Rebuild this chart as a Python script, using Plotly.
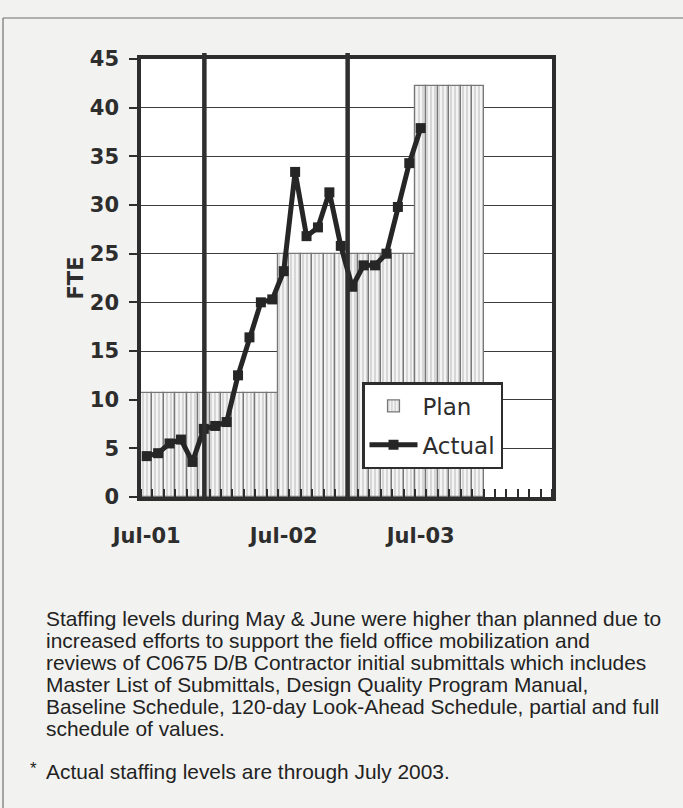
import plotly.graph_objects as go

# Month index 0 = Jul-01 ... 35 = Jun-04
month_labels = [
    "Jul-01", "Aug-01", "Sep-01", "Oct-01", "Nov-01", "Dec-01",
    "Jan-02", "Feb-02", "Mar-02", "Apr-02", "May-02", "Jun-02",
    "Jul-02", "Aug-02", "Sep-02", "Oct-02", "Nov-02", "Dec-02",
    "Jan-03", "Feb-03", "Mar-03", "Apr-03", "May-03", "Jun-03",
    "Jul-03", "Aug-03", "Sep-03", "Oct-03", "Nov-03", "Dec-03",
    "Jan-04", "Feb-04", "Mar-04", "Apr-04", "May-04", "Jun-04",
]
month_index = list(range(len(month_labels)))

# Planned FTE per month (stepped plan)
plan_fte = [
    10.7, 10.7, 10.7, 10.7, 10.7, 10.7, 10.7, 10.7, 10.7, 10.7, 10.7, 10.7,
    25.0, 25.0, 25.0, 25.0, 25.0, 25.0, 25.0, 25.0, 25.0, 25.0, 25.0, 25.0,
    42.2, 42.2, 42.2, 42.2, 42.2, 42.2,
    None, None, None, None, None, None,
]

# Actual FTE, Jul-01 through Jul-03
actual_fte = [
    4.2, 4.5, 5.5, 5.9, 3.6, 7.0, 7.3, 7.7, 12.5, 16.4, 20.0, 20.3,
    23.2, 33.4, 26.8, 27.7, 31.3, 25.8, 21.6, 23.8, 23.8, 25.0, 29.8, 34.3,
    37.9,
]

# Heavy vertical divider lines (month-index positions)
divider_positions = [5.05, 17.6]

x_tick_positions = [0, 12, 24]
y_ticks = [0, 5, 10, 15, 20, 25, 30, 35, 40, 45]

note_lines = [
    "Staffing levels during May & June were higher than planned due to",
    "increased efforts to support the field office mobilization and",
    "reviews of C0675 D/B Contractor initial submittals which includes",
    "Master List of Submittals, Design Quality Program Manual,",
    "Baseline Schedule, 120-day Look-Ahead Schedule, partial and full",
    "schedule of values.",
]
footnote = "Actual staffing levels are through July 2003."

INK = "#2d2d2d"
W, H = 683, 808
L, R, T, B = 141, 131, 59, 311
PW, PH = W - L - R, H - T - B


def px_to_paper_x(px):
    return (px - L) / PW


def px_to_paper_y(py):
    return (H - B - py) / PH


fig = go.Figure()

fig.add_trace(go.Bar(
    x=month_index,
    y=plan_fte,
    width=1.0,
    name="Plan",
    legendgroup="plan",
    marker=dict(
        color="#f3f3f3",
        line=dict(color="#777777", width=1.2),
        pattern=dict(shape="|", size=4, solidity=0.35,
                     fgcolor="#a0a0a0", bgcolor="#f4f4f4"),
    ),
))

fig.add_trace(go.Scatter(
    x=month_index[:len(actual_fte)],
    y=actual_fte,
    name="Actual",
    legendgroup="actual",
    mode="lines+markers",
    line=dict(color="#262626", width=5),
    marker=dict(symbol="square", size=10, color="#262626"),
))

for xv in divider_positions:
    fig.add_shape(type="line", xref="x", yref="paper",
                  x0=xv, x1=xv, y0=0, y1=px_to_paper_y(53),
                  line=dict(color="#2f2f2f", width=4.5), layer="above")

# outer frame of the figure panel
fig.add_shape(type="line", xref="paper", yref="paper",
              x0=px_to_paper_x(3), x1=px_to_paper_x(690),
              y0=px_to_paper_y(18), y1=px_to_paper_y(18),
              line=dict(color="#707070", width=1.2))
fig.add_shape(type="line", xref="paper", yref="paper",
              x0=px_to_paper_x(3), x1=px_to_paper_x(3),
              y0=px_to_paper_y(18), y1=px_to_paper_y(815),
              line=dict(color="#707070", width=1.2))

note_font = dict(family="Liberation Sans, Arial", size=20.9, color="#222222")
line_y = [618, 640, 662, 684, 706, 728]
for txt, py in zip(note_lines, line_y):
    fig.add_annotation(text=txt, xref="paper", yref="paper",
                       x=px_to_paper_x(44), y=px_to_paper_y(py),
                       xanchor="left", yanchor="middle", showarrow=False,
                       font=note_font)
fig.add_annotation(text="*", xref="paper", yref="paper",
                   x=px_to_paper_x(28), y=px_to_paper_y(768),
                   xanchor="left", yanchor="middle", showarrow=False,
                   font=dict(family="Liberation Sans, Arial", size=17, color="#222222"))
fig.add_annotation(text=footnote, xref="paper", yref="paper",
                   x=px_to_paper_x(44), y=px_to_paper_y(771),
                   xanchor="left", yanchor="middle", showarrow=False,
                   font=note_font)

fig.update_layout(
    width=W, height=H,
    margin=dict(l=L, r=R, t=T, b=B, pad=0),
    paper_bgcolor="#f2f2f0",
    plot_bgcolor="#ffffff",
    bargap=0,
    showlegend=True,
    legend=dict(
        x=px_to_paper_x(362), y=px_to_paper_y(382),
        xanchor="left", yanchor="top",
        bgcolor="#ffffff", bordercolor="#2d2d2d", borderwidth=2.5,
        font=dict(family="DejaVu Sans", size=23, color=INK),
        itemwidth=48, tracegroupgap=6,
    ),
    xaxis=dict(
        range=[-0.5, 35.5],
        tickvals=x_tick_positions,
        ticktext=[month_labels[i] for i in x_tick_positions],
        ticks="", ticklabelstandoff=17,
        tickfont=dict(family="DejaVu Sans", size=21, color=INK, weight="bold"),
        showgrid=False, zeroline=False,
        showline=True, linecolor=INK, linewidth=3.5, mirror=True,
        minor=dict(tick0=-0.5, dtick=1, ticks="inside", ticklen=8,
                   tickwidth=1.5, tickcolor=INK, showgrid=False),
    ),
    yaxis=dict(
        range=[0, 45],
        tickvals=y_ticks,
        ticks="outside", ticklen=8, tickwidth=2, tickcolor=INK,
        ticklabelstandoff=6,
        tickfont=dict(family="DejaVu Sans", size=21, color=INK, weight="bold"),
        showgrid=True, gridcolor="#3c3c3c", gridwidth=1.4,
        zeroline=False,
        showline=True, linecolor=INK, linewidth=3.5, mirror=True,
        title=dict(text="FTE", standoff=1,
                   font=dict(family="DejaVu Sans", size=21, color=INK, weight="bold")),
    ),
)

fig.write_html("out.html")
